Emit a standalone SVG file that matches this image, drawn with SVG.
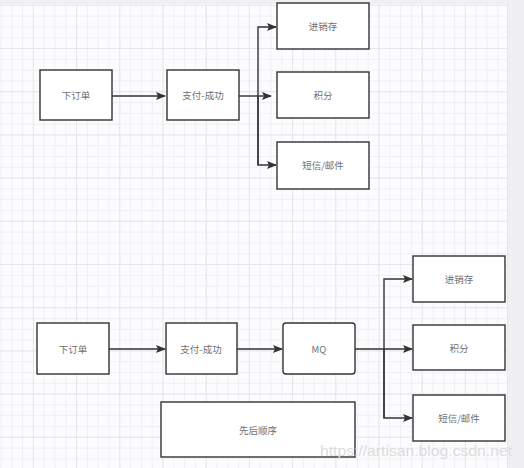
<svg xmlns="http://www.w3.org/2000/svg" width="524" height="468" viewBox="0 0 524 468">
<defs>
<pattern id="minor" width="10.8" height="10.8" patternUnits="userSpaceOnUse" x="0.5" y="4.8">
<path d="M0 0.5H10.8M0.5 0V10.8" fill="none" stroke="#f0f0f4" stroke-width="1"/>
</pattern>
<pattern id="major" width="43.2" height="43.2" patternUnits="userSpaceOnUse" x="32.9" y="4.8">
<path d="M0 0.5H43.2M0.5 0V43.2" fill="none" stroke="#e7e7eb" stroke-width="1"/>
</pattern>
<marker id="arr" markerWidth="10" markerHeight="8" refX="9" refY="4" orient="auto" markerUnits="userSpaceOnUse">
<path d="M0 0L10 4L0 8L2 4Z" fill="#333"/>
</marker>
</defs>
<style>
.box{fill:#fff;stroke:#333;stroke-width:1.4}
.lbl{font-family:"Noto Sans CJK SC","Liberation Sans",sans-serif;font-size:9.5px;fill:#707070;text-anchor:middle;dominant-baseline:central}
.con{fill:none;stroke:#333;stroke-width:1.4}
</style>
<rect width="524" height="468" fill="#f0f0f2"/>
<rect x="0" y="4" width="507" height="464" fill="#fcfcfe"/>
<rect x="0" y="4" width="507" height="464" fill="url(#minor)"/>
<rect x="0" y="4" width="507" height="464" fill="url(#major)"/>
<line x1="507.5" y1="4" x2="507.5" y2="468" stroke="#e6e6ea"/>

<g id="connectors">
<path class="con" d="M112 96H165" marker-end="url(#arr)"/>
<path class="con" d="M239 96H271" marker-end="url(#arr)"/>
<path class="con" d="M258 165V27H276" marker-end="url(#arr)"/>
<path class="con" d="M258 96V165H276" marker-end="url(#arr)"/>
<path class="con" d="M109 349H165" marker-end="url(#arr)"/>
<path class="con" d="M237 349H282" marker-end="url(#arr)"/>
<path class="con" d="M355 349H412" marker-end="url(#arr)"/>
<path class="con" d="M384 418V279H412" marker-end="url(#arr)"/>
<path class="con" d="M384 349V418H412" marker-end="url(#arr)"/>
</g>

<g id="n1"><rect class="box" x="40" y="70" width="72" height="50"/><text class="lbl" x="76" y="95">下订单</text></g>
<g id="n2"><rect class="box" x="167" y="70" width="72" height="50"/><text class="lbl" x="203" y="95">支付-成功</text></g>
<g id="n3"><rect class="box" x="277" y="3" width="92" height="46"/><text class="lbl" x="323" y="26">进销存</text></g>
<g id="n4"><rect class="box" x="277" y="72" width="92" height="46"/><text class="lbl" x="323" y="95">积分</text></g>
<g id="n5"><rect class="box" x="277" y="142" width="92" height="47"/><text class="lbl" x="323" y="165">短信/邮件</text></g>

<g id="m1"><rect class="box" x="37" y="323" width="72" height="51"/><text class="lbl" x="73" y="349">下订单</text></g>
<g id="m2"><rect class="box" x="166" y="323" width="71" height="51"/><text class="lbl" x="201" y="349">支付-成功</text></g>
<g id="mq"><rect class="box" x="283" y="323" width="72" height="51" rx="3"/><text class="lbl" x="319" y="349">MQ</text></g>
<g id="m3"><rect class="box" x="413" y="256" width="92" height="46"/><text class="lbl" x="459" y="279">进销存</text></g>
<g id="m4"><rect class="box" x="413" y="325" width="92" height="45"/><text class="lbl" x="459" y="348">积分</text></g>
<g id="m5"><rect class="box" x="413" y="395" width="92" height="46"/><text class="lbl" x="459" y="418">短信/邮件</text></g>
<g id="order"><rect class="box" x="161" y="402" width="194" height="55"/><text class="lbl" x="258" y="430">先后顺序</text></g>

<text x="320" y="456" font-family="Liberation Sans, Arial, sans-serif" font-size="14.5" fill="#dcdcdc" textLength="192" lengthAdjust="spacingAndGlyphs">https://artisan.blog.csdn.net</text>
</svg>
